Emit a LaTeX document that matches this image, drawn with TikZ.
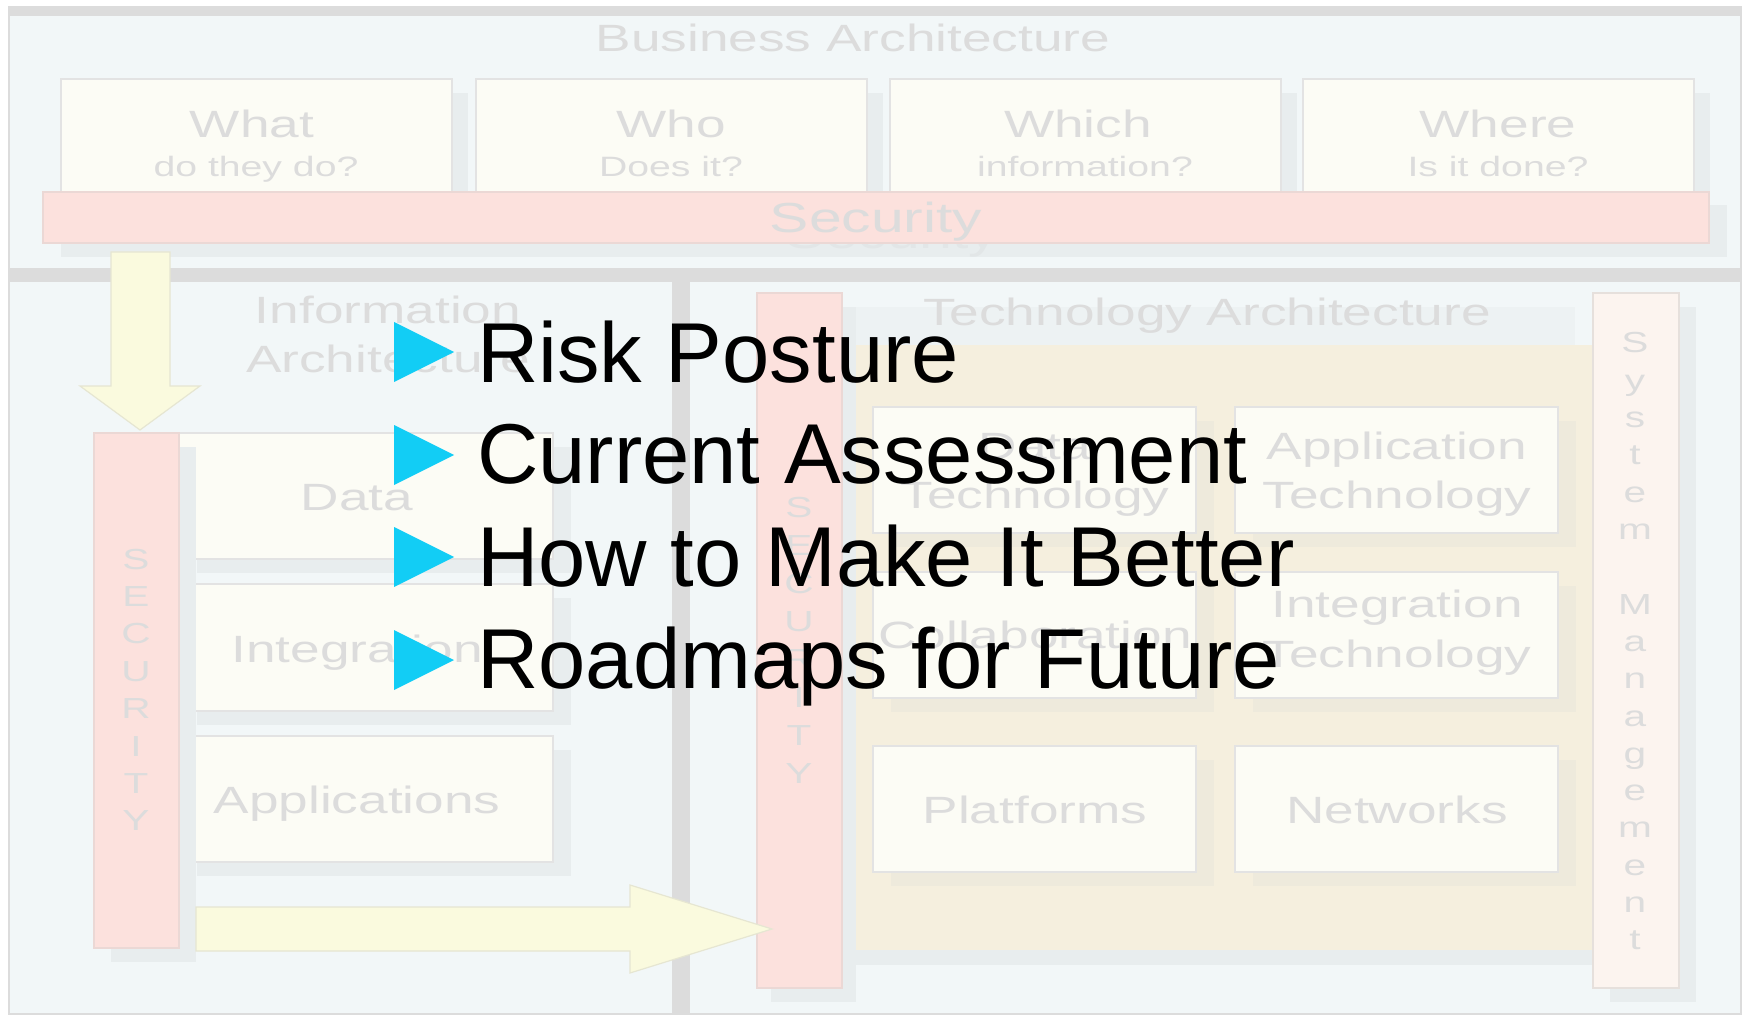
\documentclass[tikz,border=0pt]{standalone}
\usepackage{fontspec}
\setmainfont{Liberation Sans}
\usepackage{graphicx}
\definecolor{framegray}{HTML}{DCDCDC}
\definecolor{panelbg}{HTML}{F2F7F8}
\definecolor{shadowc}{HTML}{E8EDEE}
\definecolor{boxfill}{HTML}{FCFCF5}
\definecolor{boxline}{HTML}{E3E3E3}
\definecolor{pinkfill}{HTML}{FCE1DD}
\definecolor{pinkline}{HTML}{EBD8D5}
\definecolor{yelfill}{HTML}{FAFADE}
\definecolor{yelline}{HTML}{E6E6D2}
\definecolor{tanfill}{HTML}{F5EFDE}
\definecolor{tanshad}{HTML}{EEEADC}
\definecolor{smfill}{HTML}{FCF4EF}
\definecolor{smline}{HTML}{E6E0DC}
\definecolor{gtxt}{HTML}{DCDCDC}
\definecolor{ghost}{HTML}{E2E6E7}
\definecolor{titleband}{HTML}{EDF2F3}
\definecolor{bulletc}{HTML}{12CDF5}
\newcommand{\hstretch}[1]{\scalebox{1.4}[1]{#1}}
\newcommand{\gbig}{\fontsize{38}{40}\selectfont}
\newcommand{\gsmall}{\fontsize{28}{30}\selectfont}
\newcommand{\gletter}{\fontsize{29}{30}\selectfont}
\newcommand{\bigfont}{\fontsize{85}{90}\selectfont}
\tikzset{
  gt/.style={font=\gbig, text=gtxt, inner sep=0pt, anchor=base},
  gts/.style={gt, font=\gsmall},
  gtl/.style={gt, font=\gletter},
  boxst/.style={fill=boxfill, draw=boxline, line width=1.5pt},
  shad/.style={fill=shadowc},
  pinkst/.style={fill=pinkfill, draw=pinkline, line width=1.2pt},
  yelst/.style={fill=yelfill, draw=yelline, line width=1.2pt},
  bullet/.style={fill=bulletc},
  bigtext/.style={font=\bigfont, text=black, inner sep=0pt, anchor=base west}
}
\begin{document}
\begin{tikzpicture}[x=1pt,y=-1pt]
\useasboundingbox (0,0) rectangle (1749,1016);
\fill[white] (0,0) rectangle (1749,1016);
% frame and panels
\fill[framegray] (8,6) rectangle (1742,1015);
\fill[panelbg] (10,16) rectangle (1740,268);
\fill[panelbg] (10,282) rectangle (672,1013);
\fill[panelbg] (690,282) rectangle (1740,1013);

% ===== Business architecture =====
\node[gt] (btitle) at (853,52) {\hstretch{Business Architecture}};
\foreach \x in {61,476,890,1303} {
  \fill[shad] (\x+16,93) rectangle (\x+407,215);
}
\foreach \x in {61,476,890,1303} {
  \draw[boxst] (\x,79) rectangle (\x+391,205);
}
\node[gt] (what1) at (252,138) {\hstretch{What}};
\node[gts] (what2) at (256,177) {\hstretch{do they do?}};
\node[gt] (who1) at (671,138) {\hstretch{Who}};
\node[gts] (who2) at (671,177) {\hstretch{Does it?}};
\node[gt] (which1) at (1078,138) {\hstretch{Which}};
\node[gts] (which2) at (1085,177) {\hstretch{information?}};
\node[gt] (where1) at (1498,138) {\hstretch{Where}};
\node[gts] (where2) at (1498,177) {\hstretch{Is it done?}};
% security bar
\fill[shad] (61,205) rectangle (1727,257);
\node[gt, text=ghost, font=\fontsize{42}{44}\selectfont] (secghost) at (892,249) {\hstretch{Security}};
\draw[pinkst] (43,192) rectangle (1709,243);
\node[gt, font=\fontsize{42}{44}\selectfont] (sectext) at (876,233) {\hstretch{Security}};

% ===== down arrow =====
\draw[yelst] (111,252) -- (170,252) -- (170,386) -- (200,386) -- (140,430) -- (80,386) -- (111,386) -- cycle;

% ===== Information architecture =====
\node[gt] (info1) at (388,324) {\hstretch{Information}};
\node[gt] (info2) at (388,373) {\hstretch{Architecture}};
\fill[shad] (197,447) rectangle (571,573);
\fill[shad] (197,598) rectangle (571,725);
\fill[shad] (197,750) rectangle (571,876);
\draw[boxst] (170,433) rectangle (553,559);
\draw[boxst] (170,584) rectangle (553,711);
\draw[boxst] (170,736) rectangle (553,862);
\node[gt] (data) at (357,510) {\hstretch{Data}};
\node[gt] (integ) at (357,662) {\hstretch{Integration}};
\node[gt] (apps) at (357,813) {\hstretch{Applications}};
\fill[shad] (111,447) rectangle (196,962);
\draw[pinkst] (94,433) rectangle (179,948);
\foreach \l [count=\i from 0] in {S,E,C,U,R,I,T,Y} {
  \node[gtl] (ls\i) at (136,569+37.4*\i) {\hstretch{\l}};
}

% ===== Technology architecture =====
\fill[titleband] (853,307) rectangle (1575,345);
\node[gt] (ttitle) at (1207,326) {\hstretch{Technology Architecture}};
\fill[shadowc] (853,355) rectangle (1600,965);
\fill[tanfill] (842,345) rectangle (1593,950);
\foreach \x/\y in {873/407,1235/407,873/572,1235/572,873/746,1235/746} {
  \fill[tanshad] (\x+18,\y+14) rectangle (\x+341,\y+140);
}
\foreach \x/\y in {873/407,1235/407,873/572,1235/572,873/746,1235/746} {
  \draw[boxst] (\x,\y) rectangle (\x+323,\y+126);
}
\node[gt] (dt1) at (1035,459) {\hstretch{Data}};
\node[gt] (dt2) at (1035,508) {\hstretch{Technology}};
\node[gt] (at1) at (1397,459) {\hstretch{Application}};
\node[gt] (at2) at (1397,508) {\hstretch{Technology}};
\node[gt] (coll) at (1035,648) {\hstretch{Collaboration}};
\node[gt] (it1) at (1397,617) {\hstretch{Integration}};
\node[gt] (it2) at (1397,667) {\hstretch{Technology}};
\node[gt] (plat) at (1035,823) {\hstretch{Platforms}};
\node[gt] (netw) at (1397,823) {\hstretch{Networks}};
% right security bar
\fill[shad] (771,307) rectangle (856,1002);
\draw[pinkst] (757,293) rectangle (842,988);
\foreach \l [count=\i from 0] in {S,E,C,U,R,I,T,Y} {
  \node[gtl] (rs\i) at (799,517+38*\i) {\hstretch{\l}};
}
% system management bar
\fill[shad] (1610,307) rectangle (1696,1002);
\draw[fill=smfill, draw=smline, line width=1.2pt] (1593,293) rectangle (1679,988);
\foreach \l [count=\i from 0] in {S,y,s,t,e,m} {
  \node[gtl] (sm\i) at (1635,353+37.3*\i) {\hstretch{\l}};
}
\foreach \l [count=\i from 7] in {M,a,n,a,g,e,m,e,n,t} {
  \node[gtl] (sn\i) at (1635,353+37.3*\i) {\hstretch{\l}};
}

% ===== right arrow =====
\draw[yelst] (196,907) -- (630,907) -- (630,885) -- (772,929) -- (630,973) -- (630,951) -- (196,951) -- cycle;

% ===== overlay bullets =====
\foreach \k/\ty in {0/352,1/455,2/557,3/660} {
  \fill[bullet] (394,\ty-30) -- (454,\ty) -- (394,\ty+30) -- cycle;
}
\node[bigtext] (b1) at (477,382) {Risk Posture};
\node[bigtext] (b2) at (477,483) {Current Assessment};
\node[bigtext] (b3) at (477,586) {How to Make It Better};
\node[bigtext] (b4) at (477,688) {Roadmaps for Future};
\end{tikzpicture}
\end{document}
